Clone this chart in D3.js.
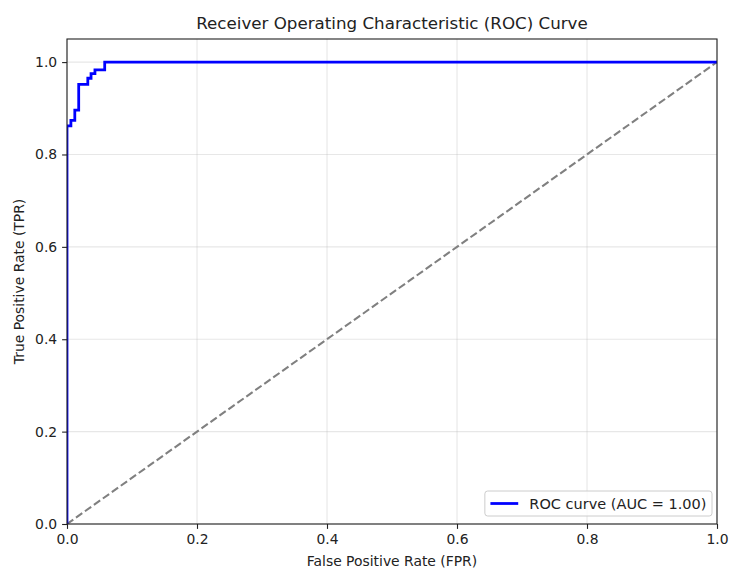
<!DOCTYPE html>
<html>
<head>
<meta charset="utf-8">
<script src="https://cdn.jsdelivr.net/npm/d3@7"></script>
<style>
  html, body { margin: 0; padding: 0; background: #fff; }
  svg { display: block; font-family: "DejaVu Sans", sans-serif; }
</style>
</head>
<body>
<svg id="chart" width="731" height="569"></svg>
<script>
// ROC curve corner points (false positive rate, true positive rate)
const fpr = [0, 0, 0.006, 0.006, 0.012, 0.012, 0.018, 0.018, 0.032, 0.032, 0.037, 0.037, 0.043, 0.043, 0.058, 0.058, 1.0];
const tpr = [0, 0.862, 0.862, 0.874, 0.874, 0.896, 0.896, 0.952, 0.952, 0.965, 0.965, 0.975, 0.975, 0.983, 0.983, 1.0, 1.0];

// Chance line
const chanceX = [0, 1];
const chanceY = [0, 1];

// Tick values
const xTicks = [0.0, 0.2, 0.4, 0.6, 0.8, 1.0];
const yTicks = [0.0, 0.2, 0.4, 0.6, 0.8, 1.0];

const titleText = "Receiver Operating Characteristic (ROC) Curve";
const xLabelText = "False Positive Rate (FPR)";
const yLabelText = "True Positive Rate (TPR)";

// Area under the curve by the trapezoid rule
let auc = 0;
for (let i = 1; i < fpr.length; i++) {
  auc += (fpr[i] - fpr[i - 1]) * (tpr[i] + tpr[i - 1]) / 2;
}
const legendText = `ROC curve (AUC = ${auc.toFixed(2)})`;

const svg = d3.select("#chart");
const W = 731, H = 569;
const pL = 67, pR = 717, pT = 39, pB = 524;
const fs = 13.9;

svg.append("rect").attr("width", W).attr("height", H).attr("fill", "#fff");

const x = d3.scaleLinear().domain([0, 1]).range([pL, pR]);
const y = d3.scaleLinear().domain([0, 1.05]).range([pB, pT]);

svg.append("defs").append("clipPath").attr("id", "plotclip")
  .append("rect").attr("x", pL).attr("y", pT)
  .attr("width", pR - pL).attr("height", pB - pT);

// Grid
const grid = svg.append("g").attr("stroke", "#b0b0b0").attr("stroke-opacity", 0.3).attr("stroke-width", 1.1);
grid.selectAll("line.gx").data(xTicks).join("line").attr("class", "gx")
  .attr("x1", d => x(d)).attr("x2", d => x(d)).attr("y1", pT).attr("y2", pB);
grid.selectAll("line.gy").data(yTicks).join("line").attr("class", "gy")
  .attr("y1", d => y(d)).attr("y2", d => y(d)).attr("x1", pL).attr("x2", pR);

const plot = svg.append("g").attr("clip-path", "url(#plotclip)");

// Chance diagonal
plot.append("path")
  .datum(chanceX.map((v, i) => [v, chanceY[i]]))
  .attr("d", d3.line().x(d => x(d[0])).y(d => y(d[1])))
  .attr("fill", "none").attr("stroke", "#808080")
  .attr("stroke-width", 2.08).attr("stroke-dasharray", "7.7,3.3");

// ROC curve
plot.append("path")
  .datum(fpr.map((v, i) => [v, tpr[i]]))
  .attr("d", d3.line().x(d => x(d[0])).y(d => y(d[1])))
  .attr("fill", "none").attr("stroke", "#0000ff")
  .attr("stroke-width", 2.78).attr("stroke-linejoin", "miter");

// Axes
const xAxis = svg.append("g").attr("transform", `translate(0,${pB})`)
  .call(d3.axisBottom(x).tickValues(xTicks).tickFormat(d3.format(".1f")).tickSize(4.9).tickPadding(4.9));
const yAxis = svg.append("g").attr("transform", `translate(${pL},0)`)
  .call(d3.axisLeft(y).tickValues(yTicks).tickFormat(d3.format(".1f")).tickSize(4.9).tickPadding(4.9));
[xAxis, yAxis].forEach(a => {
  a.select(".domain").remove();
  a.selectAll(".tick line").attr("stroke", "#222").attr("stroke-width", 1.1);
  a.selectAll(".tick text").attr("font-size", fs).attr("fill", "#222")
    .attr("font-family", "DejaVu Sans, sans-serif");
});

// Frame
svg.append("rect").attr("x", pL).attr("y", pT)
  .attr("width", pR - pL).attr("height", pB - pT)
  .attr("fill", "none").attr("stroke", "#222").attr("stroke-width", 1.1);

// Title and axis labels
svg.append("text").attr("x", (pL + pR) / 2).attr("y", 29)
  .attr("text-anchor", "middle").attr("font-size", 16.7).attr("fill", "#222").text(titleText);
svg.append("text").attr("x", (pL + pR) / 2).attr("y", 566)
  .attr("text-anchor", "middle").attr("font-size", fs).attr("fill", "#222").text(xLabelText);
svg.append("text").attr("transform", `translate(24,${(pT + pB) / 2}) rotate(-90)`)
  .attr("text-anchor", "middle").attr("font-size", fs).attr("fill", "#222").text(yLabelText);

// Legend
const lfs = 14.5;
const pad = 0.4 * fs, handleLen = 2 * fs, handleGap = 0.8 * fs;
const lg = svg.append("g");
const box = lg.append("rect");
const lt = lg.append("text").attr("font-size", lfs).attr("fill", "#222").text(legendText);
const tw = lt.node().getComputedTextLength();
const bw = pad + handleLen + handleGap + tw + pad;
const bh = 25;
const bx = pR - 5 - bw;
const by = pB - 8 - bh;
box.attr("x", bx).attr("y", by).attr("width", bw).attr("height", bh)
  .attr("rx", 2.8).attr("fill", "#fff").attr("fill-opacity", 0.8)
  .attr("stroke", "#cccccc").attr("stroke-width", 1);
const cy = by + bh / 2;
lg.append("line").attr("x1", bx + pad).attr("x2", bx + pad + handleLen)
  .attr("y1", cy).attr("y2", cy).attr("stroke", "#0000ff").attr("stroke-width", 2.78);
lt.attr("x", bx + pad + handleLen + handleGap).attr("y", cy).attr("dy", "0.36em");
</script>
</body>
</html>
